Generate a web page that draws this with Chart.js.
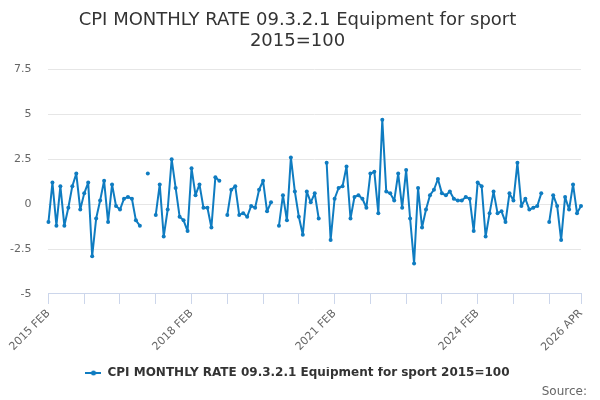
<!DOCTYPE html>
<html>
<head>
<meta charset="utf-8">
<script src="https://cdn.jsdelivr.net/npm/chart.js@4.4.0/dist/chart.umd.min.js"></script>
<style>
  html, body { margin: 0; padding: 0; background: #fff; }
  #wrap { width: 600px; height: 400px; }
</style>
</head>
<body>
<div id="wrap"><canvas id="myChart"></canvas></div>
<script>
const seriesName = 'CPI MONTHLY RATE 09.3.2.1 Equipment for sport 2015=100';
const titleLines = ['CPI MONTHLY RATE 09.3.2.1 Equipment for sport', '2015=100'];
const monthNames = ['JAN', 'FEB', 'MAR', 'APR', 'MAY', 'JUN', 'JUL', 'AUG', 'SEP', 'OCT', 'NOV', 'DEC'];
const startYear = 2015;
const startMonth = 1; // FEB

// monthly rate, 2015 FEB .. 2026 APR (null = no value)
const rates = [
  -1.0, 1.2, -1.2, 1.0, -1.2, -0.2, 1.0, 1.7, -0.3, 0.6, 1.2, -2.9,
  -0.8, 0.2, 1.3, -1.0, 1.1, -0.1, -0.3, 0.3, 0.4, 0.3, -0.9, -1.2,
  null, 1.7, null, -0.6, 1.1, -1.8, -0.3, 2.5, 0.9, -0.7, -0.9, -1.5,
  2.0, 0.5, 1.1, -0.2, -0.2, -1.3, 1.5, 1.3, null, -0.6, 0.8, 1.0,
  -0.6, -0.5, -0.7, -0.1, -0.2, 0.8, 1.3, -0.4, 0.1, null, -1.2, 0.5,
  -0.9, 2.6, 0.7, -0.7, -1.7, 0.7, 0.1, 0.6, -0.8, null, 2.3, -2.0,
  0.3, 0.9, 1.0, 2.1, -0.8, 0.4, 0.5, 0.3, -0.2, 1.7, 1.8, -0.5,
  4.7, 0.7, 0.6, 0.2, 1.7, -0.2, 1.9, -0.8, -3.3, 0.9, -1.3, -0.3,
  0.5, 0.8, 1.4, 0.6, 0.5, 0.7, 0.3, 0.2, 0.2, 0.4, 0.3, -1.5,
  1.2, 1.0, -1.8, -0.5, 0.7, -0.5, -0.4, -1.0, 0.6, 0.2, 2.3, -0.1,
  0.3, -0.3, -0.2, -0.1, 0.6, null, -1.0, 0.5, -0.1, -2.0, 0.4, -0.3,
  1.1, -0.5, -0.1
];

const labels = [];
for (let i = 0; i < rates.length; i++) {
  const m = startMonth + i;
  labels.push((startYear + Math.floor(m / 12)) + ' ' + monthNames[m % 12]);
}
const lastIdx = labels.length - 1;

const lineColor = '#0f7cc1';

// legend symbol: short line with a dot
const sym = document.createElement('canvas');
sym.width = 16; sym.height = 6;
const sctx = sym.getContext('2d');
sctx.strokeStyle = lineColor;
sctx.lineWidth = 2;
sctx.beginPath(); sctx.moveTo(0, 3); sctx.lineTo(16, 3); sctx.stroke();
sctx.fillStyle = lineColor;
sctx.beginPath(); sctx.arc(8, 3, 2.5, 0, Math.PI * 2); sctx.fill();

const font = 'DejaVu Sans';

new Chart(document.getElementById('myChart'), {
  type: 'line',
  data: {
    labels: labels,
    datasets: [{
      label: seriesName,
      data: rates,
      borderColor: lineColor,
      backgroundColor: lineColor,
      borderWidth: 2,
      borderJoinStyle: 'round',
      borderCapStyle: 'round',
      pointRadius: 2,
      pointBorderWidth: 0,
      pointHoverRadius: 3,
      spanGaps: false,
      tension: 0
    }]
  },
  options: {
    responsive: true,
    maintainAspectRatio: false,
    animation: false,
    layout: { padding: { left: 8, right: 13, top: 6, bottom: 5 } },
    scales: {
      x: {
        afterFit: function (scale) {
          // keep the plot edges where the reference has them
          scale.paddingLeft = 0;
          scale.paddingRight = 19;
          scale.height += 10;
        },
        grid: {
          drawOnChartArea: false,
          tickLength: 10,
          color: (c) => (c.index % 9 === 0 || c.index === lastIdx) ? '#ccd6eb' : 'rgba(0,0,0,0)'
        },
        border: { color: '#ccd6eb' },
        ticks: {
          autoSkip: false,
          minRotation: 45,
          maxRotation: 45,
          color: '#666',
          font: { family: font, size: 11 },
          callback: function (v, i) {
            return (i % 36 === 0 || i === lastIdx) ? labels[i] : '';
          }
        }
      },
      y: {
        min: -5,
        max: 7.5,
        afterFit: function (scale) {
          // fit() counts the tick padding twice
          scale.width -= 15;
        },
        border: { display: false },
        grid: { color: '#e6e6e6', drawTicks: false },
        ticks: {
          stepSize: 2.5,
          padding: 17,
          color: '#666',
          font: { family: font, size: 11 }
        }
      }
    },
    plugins: {
      tooltip: { enabled: false },
      title: {
        display: true,
        text: titleLines,
        color: '#333',
        font: { family: font, size: 18, weight: 'normal', lineHeight: 1.15 },
        padding: { top: 4, bottom: 18 }
      },
      legend: {
        position: 'bottom',
        labels: {
          usePointStyle: true,
          pointStyleWidth: 16,
          color: '#333',
          font: { family: font, size: 12, weight: 'bold' },
          padding: 0,
          generateLabels: function (chart) {
            const items = Chart.defaults.plugins.legend.labels.generateLabels(chart);
            items.forEach(it => { it.pointStyle = sym; });
            return items;
          }
        }
      },
      subtitle: {
        display: true,
        text: 'Source:',
        position: 'bottom',
        align: 'end',
        color: '#666',
        font: { family: font, size: 12, lineHeight: '6px' },
        padding: { top: 0, bottom: 0 }
      }
    }
  }
});
</script>
</body>
</html>
